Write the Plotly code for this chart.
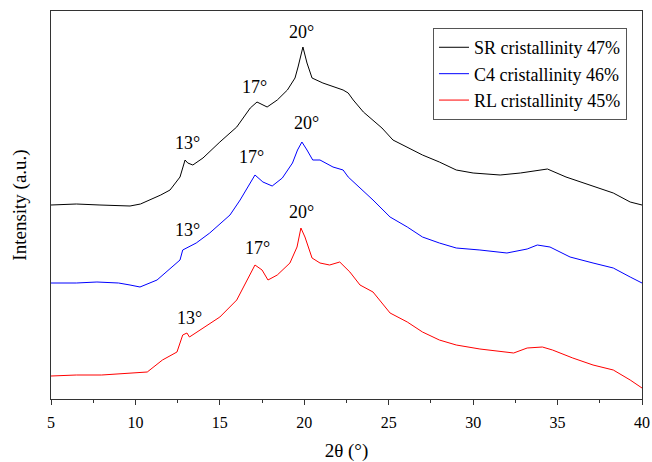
import plotly.graph_objects as go

# 2theta (deg) and intensity (a.u.)
sr_x = [5.00, 6.5, 7.9, 9.0, 9.68, 10.3, 10.86, 11.5, 12.05, 12.64, 12.94, 13.1, 13.4, 14.0, 15.0, 16.0,
        16.8, 17.2, 17.8, 18.4, 19.0, 19.45, 19.63, 19.92, 20.16, 20.46, 21.1, 21.9, 22.3, 22.6,
        22.9, 23.5, 24.3, 24.6, 25.25, 26.1, 27.0, 28.0, 29.0, 30.0, 31.6, 32.8, 34.0, 34.4, 35.5,
        36.9, 38.3, 39.3, 40.0]
sr_y = [194, 195, 194, 193, 193, 195, 199, 204, 209, 222, 239, 236, 234, 241, 257, 272,
        291, 297, 292, 299, 309, 321, 332, 352, 336, 321, 316, 311, 309, 306,
        299, 287, 276, 271, 259, 252, 244, 237, 229, 226, 224, 226, 229, 230, 222,
        214, 206, 197, 194]

c4_x = [5.00, 6.5, 7.72, 9.0, 9.68, 10.27, 11.28, 12.2, 12.64, 12.8, 13.05, 13.6, 14.4, 15.6, 16.2, 16.8,
        17.08, 17.55, 18.1, 18.7, 19.3, 19.6, 19.86, 20.16, 20.5, 20.93, 21.7, 22.3, 22.6, 24.07, 25.08,
        26.1, 27.0, 28.0, 29.0, 30.4, 32.0, 33.2, 33.8, 34.55, 35.74, 37.1, 38.3, 39.3, 40.0]
c4_y = [116, 116, 117, 116, 114, 112, 119, 132, 139, 149, 151, 156, 166, 184, 199, 216,
        224, 217, 213, 221, 236, 249, 257, 249, 239, 239, 232, 229, 222, 199, 182,
        172, 162, 156, 151, 149, 146, 150, 154, 152, 142, 136, 131, 122, 116]

rl_x = [5.00, 6.5, 8.0, 9.68, 10.7, 11.6, 12.46, 12.8, 13.05, 13.2, 14.0, 15.0, 16.0, 16.6,
        17.08, 17.5, 17.85, 18.4, 19.15, 19.57, 19.8, 20.04, 20.46, 20.93, 21.5, 22.1, 22.7, 23.3,
        24.07, 25.08, 26.1, 27.0, 28.0, 29.0, 30.4, 32.4, 33.2, 34.1, 34.7, 35.9, 37.1, 38.3, 39.3, 40.0]
rl_y = [23, 24, 24, 26, 27, 39, 47, 64, 66, 62, 71, 82, 99, 119,
        134, 129, 119, 124, 136, 152, 171, 162, 141, 136, 134, 137, 127, 114,
        107, 86, 77, 67, 59, 54, 50, 46, 51, 52, 49, 41, 34, 29, 19, 11]

series_names = ["SR cristallinity 47%", "C4 cristallinity 46%", "RL cristallinity 45%"]
series_colors = ["#000000", "#0000FF", "#FF0000"]

peak_labels = ["13°", "17°", "20°"]
label_x = [[13.11, 17.08, 19.86], [13.11, 16.9, 20.16], [13.23, 17.2, 19.86]]
label_y = [[256, 312, 367], [169, 242, 276], [81, 151, 187]]

x_ticks = [5, 10, 15, 20, 25, 30, 35, 40]

FONT = "Liberation Serif, DejaVu Serif, serif"

fig = go.Figure()
for xs, ys, name, col in zip([sr_x, c4_x, rl_x], [sr_y, c4_y, rl_y], series_names, series_colors):
    fig.add_trace(go.Scatter(x=xs, y=ys, mode="lines", name=name,
                             line=dict(color=col, width=1)))

for i, col in enumerate(series_colors):
    for lab, lx, ly in zip(peak_labels, label_x[i], label_y[i]):
        fig.add_annotation(x=lx, y=ly, text=lab, showarrow=False, xref="x", yref="y",
                           font=dict(family=FONT, size=18, color="#000000"),
                           xanchor="center", yanchor="middle")

fig.update_layout(
    width=652, height=462,
    margin=dict(l=51, r=10, t=11, b=63, autoexpand=False),
    paper_bgcolor="white", plot_bgcolor="white",
    font=dict(family=FONT, size=16, color="#000000"),
    showlegend=True,
    legend=dict(x=0.9746, y=0.956, xanchor="right", yanchor="top",
                bgcolor="white", bordercolor="#555555", borderwidth=1,
                font=dict(family=FONT, size=18, color="#000000"),
                tracegroupgap=0, itemwidth=30),
)
fig.update_xaxes(range=[5, 40], tickvals=x_ticks, ticktext=[str(t) for t in x_ticks],
                 ticks="outside", ticklen=5, tickwidth=1, tickcolor="#333333",
                 minor=dict(dtick=2.5, tick0=5, ticks="outside", ticklen=3, tickcolor="#333333"),
                 showline=True, linecolor="#333333", linewidth=1, mirror=True,
                 showgrid=False, zeroline=False, automargin=False,
                 ticklabelstandoff=4,
                 tickfont=dict(family=FONT, size=16),
                 title=dict(text="2θ (°)", font=dict(family=FONT, size=19), standoff=14))
fig.update_yaxes(range=[0, 388], showticklabels=False, ticks="",
                 showline=True, linecolor="#333333", linewidth=1, mirror=True,
                 showgrid=False, zeroline=False, automargin=False,
                 title=dict(text="Intensity (a.u.)", font=dict(family=FONT, size=19), standoff=18))

fig.write_html("out.html", config={"displayModeBar": False},
               post_script="document.body.style.margin='0';document.body.style.padding='0';")
